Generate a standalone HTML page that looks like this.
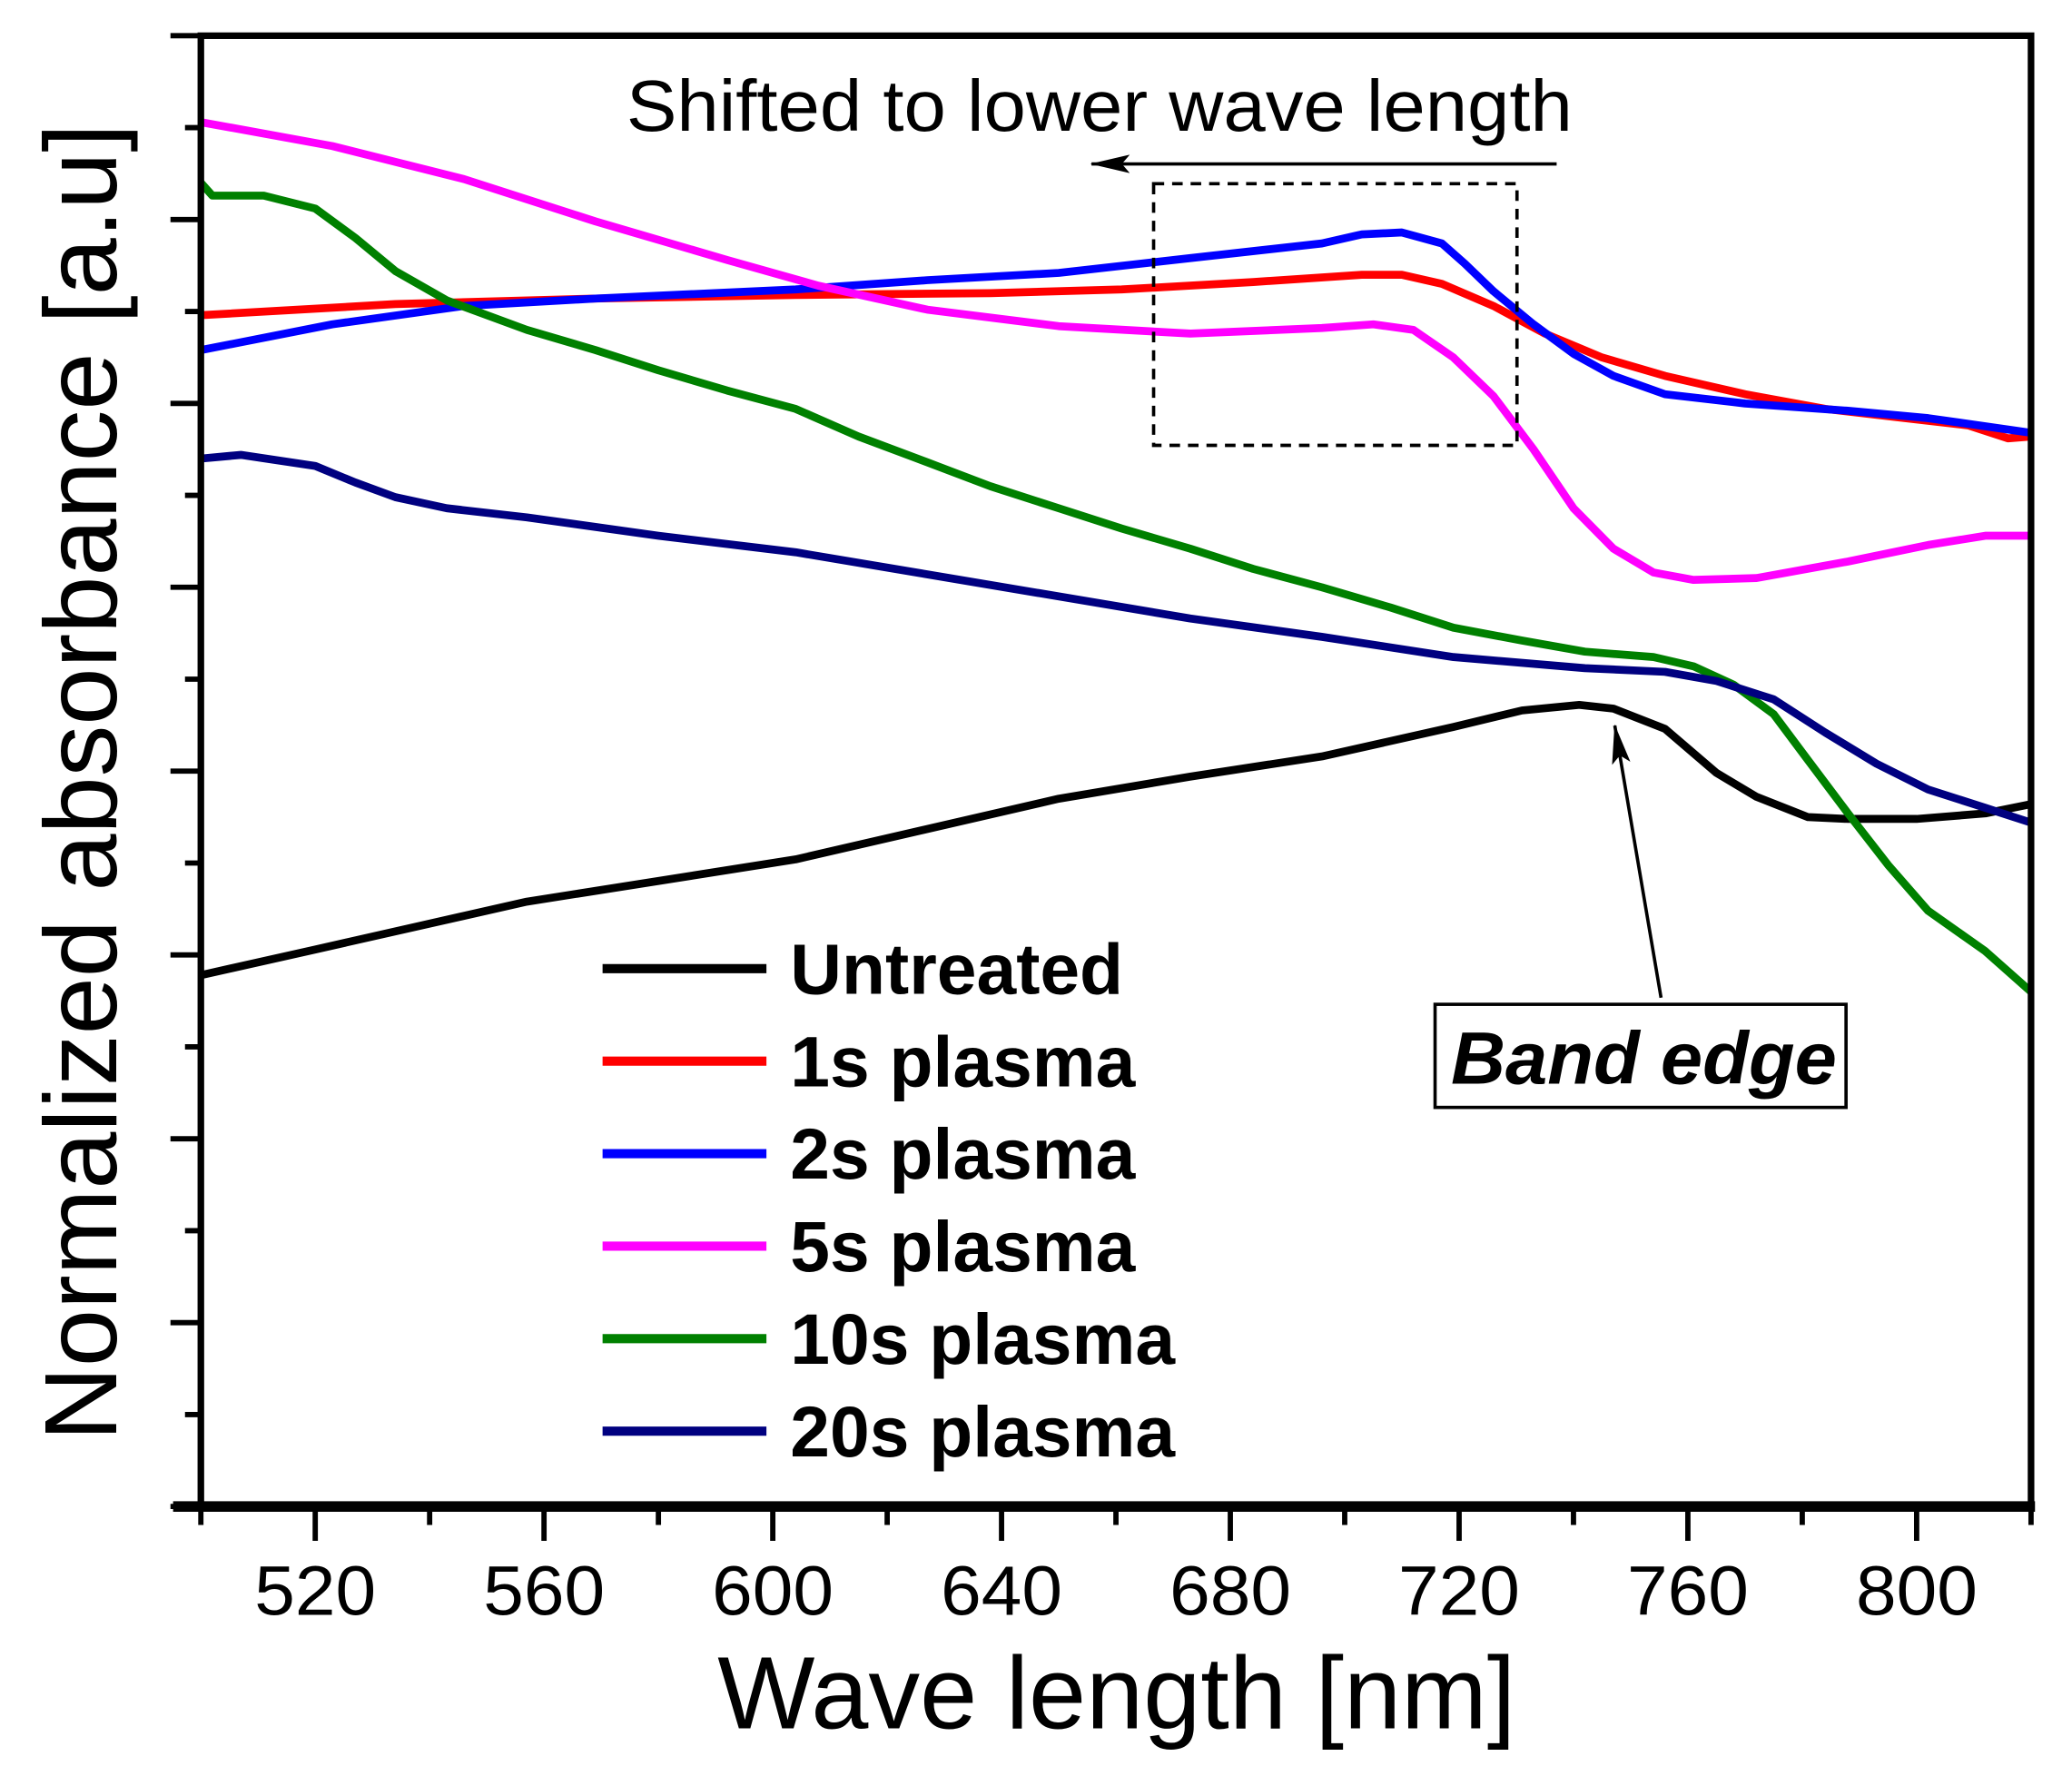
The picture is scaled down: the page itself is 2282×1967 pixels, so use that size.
<!DOCTYPE html>
<html><head><meta charset="utf-8"><style>
html,body{margin:0;padding:0;background:#fff}
svg{display:block}
text{font-family:"Liberation Sans",Arial,sans-serif}
</style></head><body>
<svg id="chart" width="2282" height="1967" viewBox="0 0 1568 1351.5" xmlns="http://www.w3.org/2000/svg">
<g id="plot"></g>
</svg>
<script>
const xTickLabels=[520,560,600,640,680,720,760,800];
const seriesNames=["Untreated","1s plasma","2s plasma","5s plasma","10s plasma","20s plasma"];
const seriesColors=["#000000","#ff0000","#0000ff","#ff00ff","#008000","#000080"];
const untreatedX=[500,520,557,604,650,673,696,719,731,741,747,756,765,772,781,788,800,812,820];
const untreatedY=[2.89,3.03,3.29,3.52,3.85,3.97,4.08,4.24,4.33,4.36,4.34,4.23,3.99,3.86,3.75,3.74,3.74,3.77,3.82];
const s1X=[500,534,569,604,638,661,684,703,710,717,726,735,745,756,770,784,798,809,816,820];
const s1Y=[6.48,6.54,6.57,6.59,6.60,6.62,6.66,6.70,6.70,6.65,6.53,6.38,6.25,6.15,6.05,5.97,5.92,5.88,5.81,5.82];
const s2X=[500,523,546,569,604,627,650,673,696,703,710,717,721,726,733,740,747,756,770,788,802,820];
const s2Y=[6.29,6.43,6.53,6.57,6.62,6.67,6.71,6.79,6.87,6.92,6.93,6.87,6.76,6.61,6.43,6.27,6.15,6.05,6.00,5.96,5.92,5.84];
const s5X=[500,523,546,569,592,608,627,650,673,696,705,712,719,726,733,740,747,754,761,772,788,802,812,820];
const s5Y=[7.53,7.40,7.22,6.99,6.78,6.64,6.51,6.42,6.38,6.41,6.43,6.40,6.25,6.04,5.75,5.43,5.21,5.08,5.04,5.05,5.14,5.23,5.28,5.28];
const s10X=[500,502,511,520,527,534,543,557,569,580,592,604,615,627,638,650,661,673,684,696,708,719,731,742,754,761,768,775,781,788,795,802,812,820];
const s10Y=[7.20,7.13,7.13,7.06,6.90,6.72,6.56,6.40,6.29,6.18,6.07,5.97,5.82,5.68,5.55,5.43,5.32,5.21,5.10,5.00,4.89,4.78,4.71,4.65,4.62,4.57,4.47,4.31,4.06,3.77,3.49,3.24,3.02,2.80];
const s20X=[500,507,520,527,534,543,557,580,604,627,650,673,696,719,742,756,765,775,784,793,802,812,820];
const s20Y=[5.70,5.72,5.66,5.57,5.49,5.43,5.38,5.28,5.19,5.07,4.95,4.83,4.73,4.62,4.56,4.54,4.49,4.39,4.21,4.04,3.90,3.80,3.72];

const L=152,R=1537,T=27,B=1140;
const xs=v=>L+(v-500)*(R-L)/320;
const ys=v=>B-v*(B-T)/8;
const NS="http://www.w3.org/2000/svg";
const g=document.getElementById('plot');
function mk(tag,attrs,parent){const e=document.createElementNS(NS,tag);for(const k in attrs)e.setAttribute(k,attrs[k]);(parent||g).appendChild(e);return e;}

const allX=[untreatedX,s1X,s2X,s5X,s10X,s20X], allY=[untreatedY,s1Y,s2Y,s5Y,s10Y,s20Y];
const sNames=['untreated-line','1s-plasma-line','2s-plasma-line','5s-plasma-line','10s-plasma-line','20s-plasma-line'];
for(let i=0;i<6;i++){
  const d=allX[i].map((x,j)=>(j?'L':'M')+xs(x).toFixed(1)+' '+ys(allY[i][j]).toFixed(1)).join(' ');
  const p=mk('path',{d:d,fill:'none',stroke:seriesColors[i],'stroke-width':6,'stroke-linejoin':'round'});
  
  
}
const fr=mk('rect',{x:L,y:T,width:R-L,height:B-T,fill:'none',stroke:'#000','stroke-width':5});


const bx=mk('line',{x1:131,x2:1540,y1:B,y2:B,stroke:'#000','stroke-width':8});


for(let v=500;v<=820;v+=20){
  const major=(v-520)%40===0;
  const t=mk('line',{x1:xs(v),x2:xs(v),y1:B,y2:B+(major?26:14),stroke:'#000','stroke-width':4});
  
  
}
xTickLabels.forEach(v=>{
  const t=mk('text',{x:xs(v),y:1222,'font-size':53,'text-anchor':'middle',textLength:92,lengthAdjust:'spacingAndGlyphs'});
  t.textContent=v;
  
  
});
for(let k=0;k<=16;k++){
  const v=k/2, major=k%2===0;
  const t=mk('line',{x1:L-(major?23:12),x2:L,y1:ys(v),y2:ys(v),stroke:'#000','stroke-width':4});
  
  
}
const xt=mk('text',{x:845,y:1308,'font-size':78,'text-anchor':'middle'});
xt.textContent='Wave length [nm]';


const yt=mk('text',{x:0,y:0,'font-size':78,'text-anchor':'middle',transform:'translate(88,592) rotate(-90)'});
yt.textContent='Normalized absorbance [a.u]';


const lg=mk('g',{});


seriesNames.forEach((n,i)=>{
  const y=733+i*70;
  const l=mk('line',{x1:456,x2:580,y1:y,y2:y,stroke:seriesColors[i],'stroke-width':7},lg);
  
  
  const t=mk('text',{x:598,y:y+19,'font-size':54,'font-weight':'bold'},lg);
  t.textContent=n;
  
  
});
const defs=mk('defs',{});
const mkr2=mk('marker',{id:'ah2',markerWidth:30,markerHeight:14,refX:29,refY:7,orient:'auto',markerUnits:'userSpaceOnUse'},defs);
mk('path',{d:'M0 0 L30 7 L0 14 L6 7 Z',fill:'#000'},mkr2);
const st=mk('text',{x:474,y:99,'font-size':55,textLength:716,lengthAdjust:'spacingAndGlyphs'});
st.textContent='Shifted to lower wave length';


const a1=mk('line',{x1:1178,y1:124,x2:826,y2:124,stroke:'#000','stroke-width':2.5,'marker-end':'url(#ah2)'});


const dr=mk('rect',{x:873,y:139,width:275,height:198,fill:'none',stroke:'#000','stroke-width':2.5,'stroke-dasharray':'8,6'});


const a2=mk('line',{x1:1257,y1:755,x2:1222,y2:549,stroke:'#000','stroke-width':2.5,'marker-end':'url(#ah2)'});


const bb=mk('rect',{x:1086,y:760,width:311,height:78,fill:'#fff',stroke:'#000','stroke-width':2.5});


const bt=mk('text',{x:1244,y:820,'font-size':56,'font-weight':'bold','font-style':'italic','text-anchor':'middle',textLength:292,lengthAdjust:'spacingAndGlyphs'});
bt.textContent='Band edge';


</script>
</body></html>
